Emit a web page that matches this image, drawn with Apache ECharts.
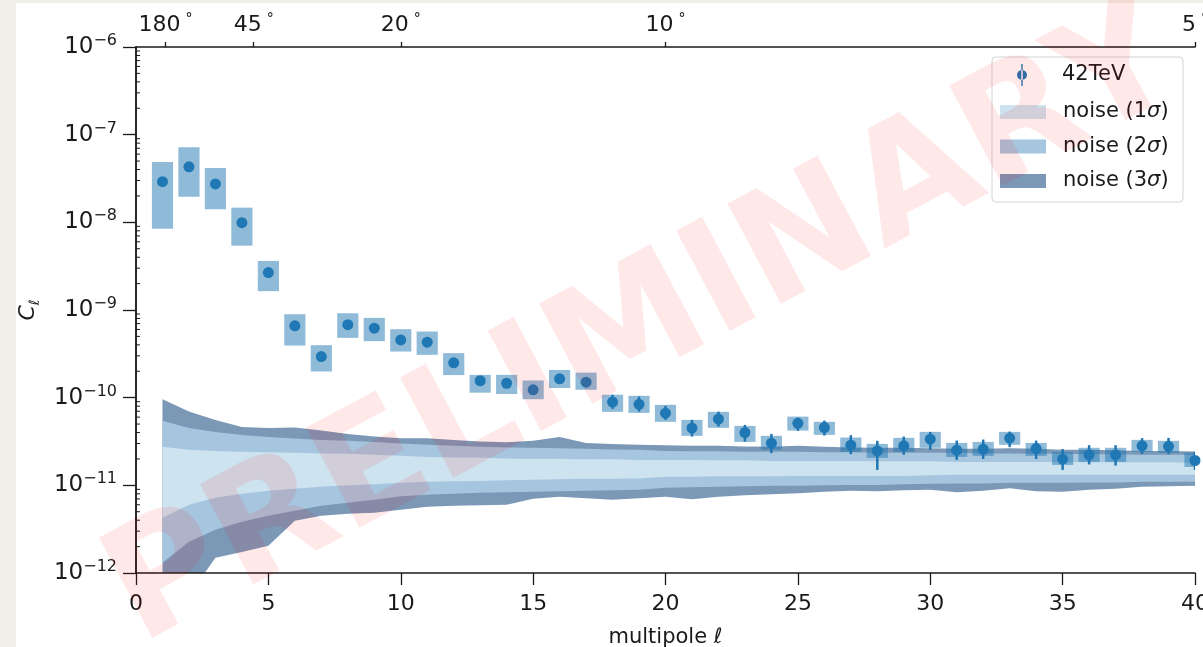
<!DOCTYPE html>
<html>
<head>
<meta charset="utf-8">
<script src="https://cdn.jsdelivr.net/npm/echarts@6/dist/echarts.min.js"></script>
<style>
  html, body { margin: 0; padding: 0; background: #f2efe9; }
  #chart { width: 1203px; height: 647px; }
</style>
</head>
<body>
<div id="chart"></div>
<script>
// Angular power spectrum C_l of the 42 TeV map, with noise envelopes.
const ells = [1,2,3,4,5,6,7,8,9,10,11,12,13,14,15,16,17,18,19,20,21,22,23,24,25,26,27,28,29,30,31,32,33,34,35,36,37,38,39,40];

const cl = [2.91e-8,4.3e-8,2.74e-8,9.9e-9,2.67e-9,6.6e-10,2.94e-10,6.8e-10,6.2e-10,4.56e-10,4.3e-10,2.5e-10,1.56e-10,1.46e-10,1.23e-10,1.64e-10,1.5e-10,8.9e-11,8.4e-11,6.65e-11,4.5e-11,5.7e-11,4.0e-11,3.03e-11,5.1e-11,4.56e-11,2.87e-11,2.47e-11,2.82e-11,3.36e-11,2.52e-11,2.58e-11,3.45e-11,2.63e-11,1.99e-11,2.23e-11,2.23e-11,2.82e-11,2.79e-11,1.92e-11];

const errHi = [3.13e-8,4.6e-8,2.95e-8,1.07e-8,2.9e-9,7.1e-10,3.2e-10,7.3e-10,6.7e-10,4.95e-10,4.65e-10,2.72e-10,1.72e-10,1.62e-10,1.37e-10,1.82e-10,1.67e-10,1.08e-10,1.03e-10,8.05e-11,5.58e-11,6.93e-11,4.89e-11,3.86e-11,5.93e-11,5.48e-11,3.73e-11,3.22e-11,3.60e-11,4.07e-11,3.24e-11,3.33e-11,4.10e-11,3.24e-11,2.59e-11,2.87e-11,2.87e-11,3.45e-11,3.48e-11,2.41e-11];
const errLo = [2.70e-8,4.0e-8,2.55e-8,9.2e-9,2.47e-9,6.1e-10,2.72e-10,6.3e-10,5.75e-10,4.2e-10,3.98e-10,2.3e-10,1.41e-10,1.32e-10,1.1e-10,1.48e-10,1.35e-10,7.45e-11,6.93e-11,5.58e-11,3.60e-11,4.68e-11,3.15e-11,2.33e-11,4.18e-11,3.70e-11,2.27e-11,1.50e-11,2.23e-11,2.54e-11,1.95e-11,2.00e-11,2.73e-11,2.00e-11,1.50e-11,1.73e-11,1.68e-11,2.27e-11,2.27e-11,1.50e-11];

const boxHi = [4.89e-8,7.18e-8,4.17e-8,1.47e-8,3.63e-9,8.95e-10,3.97e-10,9.18e-10,8.13e-10,6.04e-10,5.68e-10,3.22e-10,1.82e-10,1.82e-10,1.57e-10,2.07e-10,1.93e-10,1.08e-10,1.05e-10,8.28e-11,5.58e-11,6.89e-11,4.76e-11,3.67e-11,6.08e-11,5.30e-11,3.51e-11,2.97e-11,3.48e-11,4.07e-11,3.05e-11,3.13e-11,4.07e-11,3.05e-11,2.41e-11,2.68e-11,2.68e-11,3.30e-11,3.22e-11,2.35e-11];
const boxLo = [8.47e-9,1.96e-8,1.41e-8,5.42e-9,1.64e-9,3.93e-10,1.99e-10,4.81e-10,4.41e-10,3.36e-10,3.08e-10,1.81e-10,1.14e-10,1.10e-10,9.6e-11,1.29e-10,1.23e-10,6.89e-11,6.71e-11,5.30e-11,3.67e-11,4.53e-11,3.13e-11,2.54e-11,4.21e-11,3.77e-11,2.41e-11,2.06e-11,2.41e-11,2.68e-11,2.11e-11,2.17e-11,2.90e-11,2.17e-11,1.71e-11,1.85e-11,1.85e-11,2.41e-11,2.35e-11,1.62e-11];

// noise envelopes (upper / lower edge of each sigma band)
const noise3Hi = [9.61e-11,6.94e-11,5.58e-11,4.64e-11,4.52e-11,4.56e-11,4.21e-11,3.86e-11,3.60e-11,3.45e-11,3.45e-11,3.30e-11,3.16e-11,3.11e-11,3.22e-11,3.57e-11,3.05e-11,2.97e-11,2.90e-11,2.86e-11,2.82e-11,2.82e-11,2.78e-11,2.75e-11,2.82e-11,2.75e-11,2.71e-11,2.68e-11,2.68e-11,2.64e-11,2.61e-11,2.61e-11,2.64e-11,2.61e-11,2.54e-11,2.54e-11,2.51e-11,2.47e-11,2.47e-11,2.43e-11];
const noise2Hi = [5.44e-11,4.52e-11,4.07e-11,3.76e-11,3.57e-11,3.43e-11,3.30e-11,3.22e-11,3.13e-11,3.01e-11,2.90e-11,2.82e-11,2.75e-11,2.71e-11,2.68e-11,2.64e-11,2.61e-11,2.57e-11,2.54e-11,2.47e-11,2.44e-11,2.44e-11,2.41e-11,2.41e-11,2.41e-11,2.38e-11,2.38e-11,2.35e-11,2.35e-11,2.35e-11,2.35e-11,2.31e-11,2.31e-11,2.29e-11,2.29e-11,2.26e-11,2.26e-11,2.23e-11,2.23e-11,2.23e-11];
const noise1Hi = [2.75e-11,2.54e-11,2.47e-11,2.41e-11,2.38e-11,2.35e-11,2.31e-11,2.29e-11,2.23e-11,2.17e-11,2.11e-11,2.08e-11,2.06e-11,2.03e-11,2.00e-11,2.00e-11,1.98e-11,1.98e-11,1.95e-11,1.95e-11,1.95e-11,1.93e-11,1.93e-11,1.90e-11,1.90e-11,1.90e-11,1.90e-11,1.88e-11,1.88e-11,1.88e-11,1.85e-11,1.85e-11,1.85e-11,1.85e-11,1.85e-11,1.83e-11,1.83e-11,1.83e-11,1.83e-11,1.80e-11];
const noise1Lo = [4.26e-12,5.99e-12,7.20e-12,8.00e-12,8.66e-12,9.12e-12,9.61e-12,1.00e-11,1.03e-11,1.07e-11,1.10e-11,1.11e-11,1.12e-11,1.14e-11,1.16e-11,1.17e-11,1.19e-11,1.19e-11,1.20e-11,1.25e-11,1.25e-11,1.27e-11,1.27e-11,1.27e-11,1.28e-11,1.28e-11,1.28e-11,1.28e-11,1.28e-11,1.30e-11,1.32e-11,1.32e-11,1.32e-11,1.32e-11,1.32e-11,1.32e-11,1.32e-11,1.32e-11,1.32e-11,1.32e-11];
const noise2Lo = [1.31e-12,2.27e-12,3.11e-12,3.83e-12,4.49e-12,5.12e-12,5.84e-12,6.32e-12,6.83e-12,7.49e-12,7.79e-12,8.00e-12,8.21e-12,8.32e-12,8.43e-12,8.54e-12,8.66e-12,8.77e-12,8.89e-12,9.36e-12,9.49e-12,9.61e-12,9.74e-12,9.87e-12,9.87e-12,1.00e-11,1.01e-11,1.01e-11,1.03e-11,1.04e-11,1.05e-11,1.05e-11,1.07e-11,1.07e-11,1.07e-11,1.08e-11,1.08e-11,1.10e-11,1.10e-11,1.10e-11];
const noise3Lo = [4.9e-13,5.6e-13,1.49e-12,1.74e-12,2.04e-12,3.94e-12,4.49e-12,4.73e-12,4.86e-12,5.26e-12,5.69e-12,5.84e-12,5.92e-12,5.99e-12,7.02e-12,7.39e-12,7.11e-12,6.83e-12,7.11e-12,7.39e-12,6.92e-12,7.39e-12,7.69e-12,7.89e-12,8.11e-12,8.43e-12,8.66e-12,8.54e-12,8.77e-12,8.89e-12,8.32e-12,8.66e-12,9.24e-12,8.54e-12,8.43e-12,8.89e-12,9.12e-12,9.61e-12,9.74e-12,9.87e-12];

// angular scale shown on the top axis (degrees)
const angleTicks = [180, 45, 20, 10, 5];
const yDecades = [-12, -11, -10, -9, -8, -7, -6];
const minorMultipliers = [2, 3, 4, 5, 6, 7, 8, 9];

const FONT = "'DejaVu Sans', Verdana, sans-serif";
const INK = '#1a1a1a';
const BLUE = '#1f77b4';
const BAND1 = '#cde3f0', BAND2 = '#a6c5de', BAND3 = '#7b98b7';

function bandSeries(name, lo, hi, color, z) {
  return {
    type: 'custom', name: name, coordinateSystem: 'cartesian2d',
    clip: true, silent: true, z: z,
    itemStyle: { color: color },
    data: ells.map((l, i) => [l, lo[i], hi[i]]),
    encode: { x: 0, y: [1, 2] },
    renderItem: function (params, api) {
      if (params.dataIndex !== 0) return null;
      const top = ells.map((l, i) => api.coord([l, hi[i]]));
      const bot = ells.map((l, i) => api.coord([l, lo[i]])).reverse();
      return { type: 'polygon', shape: { points: top.concat(bot) }, style: { fill: color } };
    }
  };
}

const minorValues = [];
yDecades.slice(0, -1).forEach(e => minorMultipliers.forEach(m => minorValues.push(m * Math.pow(10, e))));

const chart = echarts.init(document.getElementById('chart'), null, { renderer: 'canvas' });

const option = {
  animation: false,
  backgroundColor: 'transparent',
  textStyle: { fontFamily: FONT },
  grid: { left: 136, right: 8, top: 47, bottom: 74, containLabel: false, outerBoundsMode: 'none' },
  xAxis: [
    {
      type: 'value', min: 0, max: 40, interval: 5, position: 'bottom', z: 10,
      axisLine: { onZero: false, lineStyle: { color: INK, width: 1.5 } },
      axisTick: { length: 12, lineStyle: { color: INK, width: 1.3 } },
      axisLabel: { fontSize: 22, color: INK, margin: 20, fontFamily: FONT, hideOverlap: false },
      splitLine: { show: false },
      name: 'multipole {i|ℓ}', nameLocation: 'middle', nameGap: 54,
      nameTextStyle: { fontSize: 21, color: INK, fontFamily: FONT,
        rich: { i: { fontSize: 21, color: INK, fontStyle: 'italic', fontFamily: FONT } } }
    },
    {
      type: 'value', min: 0, max: 40, position: 'top', z: 10,
      axisLine: { onZero: false, lineStyle: { color: INK, width: 1.5 } },
      axisTick: { customValues: angleTicks.map(a => 200 / a), length: 5, lineStyle: { color: INK, width: 1.3 } },
      axisLabel: {
        customValues: angleTicks.map(a => 200 / a), margin: 9, color: INK,
        formatter: v => '{n|' + Math.round(200 / v) + '}{d|°}',
        rich: {
          n: { fontSize: 22, lineHeight: 26, color: INK, fontFamily: FONT },
          d: { fontSize: 14, lineHeight: 20, verticalAlign: 'top', color: INK, fontFamily: FONT, padding: [0, 0, 0, 5] }
        }
      },
      splitLine: { show: false }
    }
  ],
  yAxis: [
    {
      type: 'log', logBase: 10, min: 1e-12, max: 1e-6, position: 'left', z: 10,
      axisLine: { show: true, lineStyle: { color: INK, width: 1.5 } },
      axisTick: { show: true, length: 13, lineStyle: { color: INK, width: 1.3 } },
      axisLabel: {
        margin: 19, color: INK,
        formatter: v => '{b|10}{s|−' + (-Math.round(Math.log10(v))) + '}',
        rich: {
          b: { fontSize: 23, lineHeight: 28, color: INK, fontFamily: FONT },
          s: { fontSize: 16, lineHeight: 14, verticalAlign: 'top', color: INK, fontFamily: FONT }
        }
      },
      splitLine: { show: false },
      name: '{c|C}{s|ℓ}', nameLocation: 'middle', nameGap: 94, nameRotate: 90,
      nameTextStyle: {
        rich: {
          c: { fontSize: 22, lineHeight: 28, fontStyle: 'italic', color: INK, fontFamily: FONT },
          s: { fontSize: 14, lineHeight: 12, verticalAlign: 'bottom', fontStyle: 'italic', color: INK, fontFamily: FONT }
        }
      }
    },
    {
      type: 'log', logBase: 10, min: 1e-12, max: 1e-6, position: 'right', z: 10,
      axisLine: { show: true, lineStyle: { color: INK, width: 1.5 } },
      axisTick: { show: false }, axisLabel: { show: false }, splitLine: { show: false }
    }
  ],
  legend: [
    {
      selectedMode: false, orient: 'vertical', left: 1017, top: 64, padding: 0,
      itemWidth: 46, itemHeight: 22,
      textStyle: { fontSize: 21, color: INK, fontFamily: FONT, lineHeight: 22, padding: [0, 0, 0, 12] },
      data: [{
        name: '42TeV',
        icon: 'path://M4.3,0h1.4v22h-1.4z M0,11a5,5 0 1,0 10,0a5,5 0 1,0 -10,0z',
        itemStyle: { color: BLUE }
      }]
    },
    {
      selectedMode: false, orient: 'vertical', left: 1000, top: 101, padding: 0,
      itemWidth: 46, itemHeight: 14, itemGap: 12.5,
      formatter: n => n.replace('σ', '{i|σ}'),
      textStyle: { fontSize: 21, color: INK, fontFamily: FONT, lineHeight: 22, padding: [0, 0, 0, 12],
        rich: { i: { fontSize: 21, fontStyle: 'italic', color: INK, fontFamily: FONT } } },
      data: [
        { name: 'noise (1σ)', icon: 'rect', itemStyle: { color: BAND1 } },
        { name: 'noise (2σ)', icon: 'rect', itemStyle: { color: BAND2 } },
        { name: 'noise (3σ)', icon: 'rect', itemStyle: { color: BAND3 } }
      ]
    }
  ],
  graphic: [
    { type: 'rect', silent: true, z: -10, shape: { x: 16, y: 3, width: 1187, height: 644 }, style: { fill: '#ffffff' } },
    { type: 'rect', silent: true, z: 3, shape: { x: 992, y: 57, width: 191, height: 145, r: 4 },
      style: { fill: 'rgba(255,255,255,0.85)', stroke: '#d4d4d4', lineWidth: 1 } },
    { type: 'text', silent: true, z: 100, x: 645, y: 330, rotation: 28 * Math.PI / 180,
      style: { text: 'PRELIMINARY', font: 'bold 156px "DejaVu Sans"', fill: 'rgba(255,0,0,0.09)',
        align: 'center', verticalAlign: 'middle' } }
  ],
  series: [
    bandSeries('noise (3σ)', noise3Lo, noise3Hi, BAND3, 1),
    bandSeries('noise (2σ)', noise2Lo, noise2Hi, BAND2, 1.1),
    bandSeries('noise (1σ)', noise1Lo, noise1Hi, BAND1, 1.2),
    {
      type: 'custom', name: 'boxes', coordinateSystem: 'cartesian2d', clip: true, silent: true, z: 2,
      data: ells.map((l, i) => [l, boxLo[i], boxHi[i]]),
      encode: { x: 0, y: [1, 2] },
      renderItem: function (params, api) {
        const l = api.value(0);
        const a = api.coord([l - 0.4, api.value(2)]);
        const b = api.coord([l + 0.4, api.value(1)]);
        return { type: 'rect', shape: { x: a[0], y: a[1], width: b[0] - a[0], height: b[1] - a[1] },
          style: { fill: 'rgba(31,119,180,0.5)' } };
      }
    },
    {
      type: 'custom', name: 'errors', coordinateSystem: 'cartesian2d', clip: true, silent: true, z: 3,
      data: ells.map((l, i) => [l, errLo[i], errHi[i]]),
      encode: { x: 0, y: [1, 2] },
      renderItem: function (params, api) {
        const a = api.coord([api.value(0), api.value(1)]);
        const b = api.coord([api.value(0), api.value(2)]);
        return { type: 'line', shape: { x1: a[0], y1: a[1], x2: b[0], y2: b[1] },
          style: { stroke: BLUE, lineWidth: 2.5 } };
      }
    },
    {
      type: 'scatter', name: '42TeV', z: 4, clip: true,
      symbol: 'circle', symbolSize: 11,
      itemStyle: { color: BLUE, opacity: 1 },
      data: ells.map((l, i) => [l, cl[i]])
    },
    {
      type: 'custom', name: 'minor ticks', coordinateSystem: 'cartesian2d', silent: true, z: 11,
      data: minorValues.map(v => [0, v]),
      renderItem: function (params, api) {
        const p = api.coord([0, api.value(1)]);
        return { type: 'line', shape: { x1: p[0], y1: p[1], x2: p[0] + 4, y2: p[1] },
          style: { stroke: INK, lineWidth: 1 } };
      }
    }
  ]
};

chart.setOption(option);
</script>
</body>
</html>
